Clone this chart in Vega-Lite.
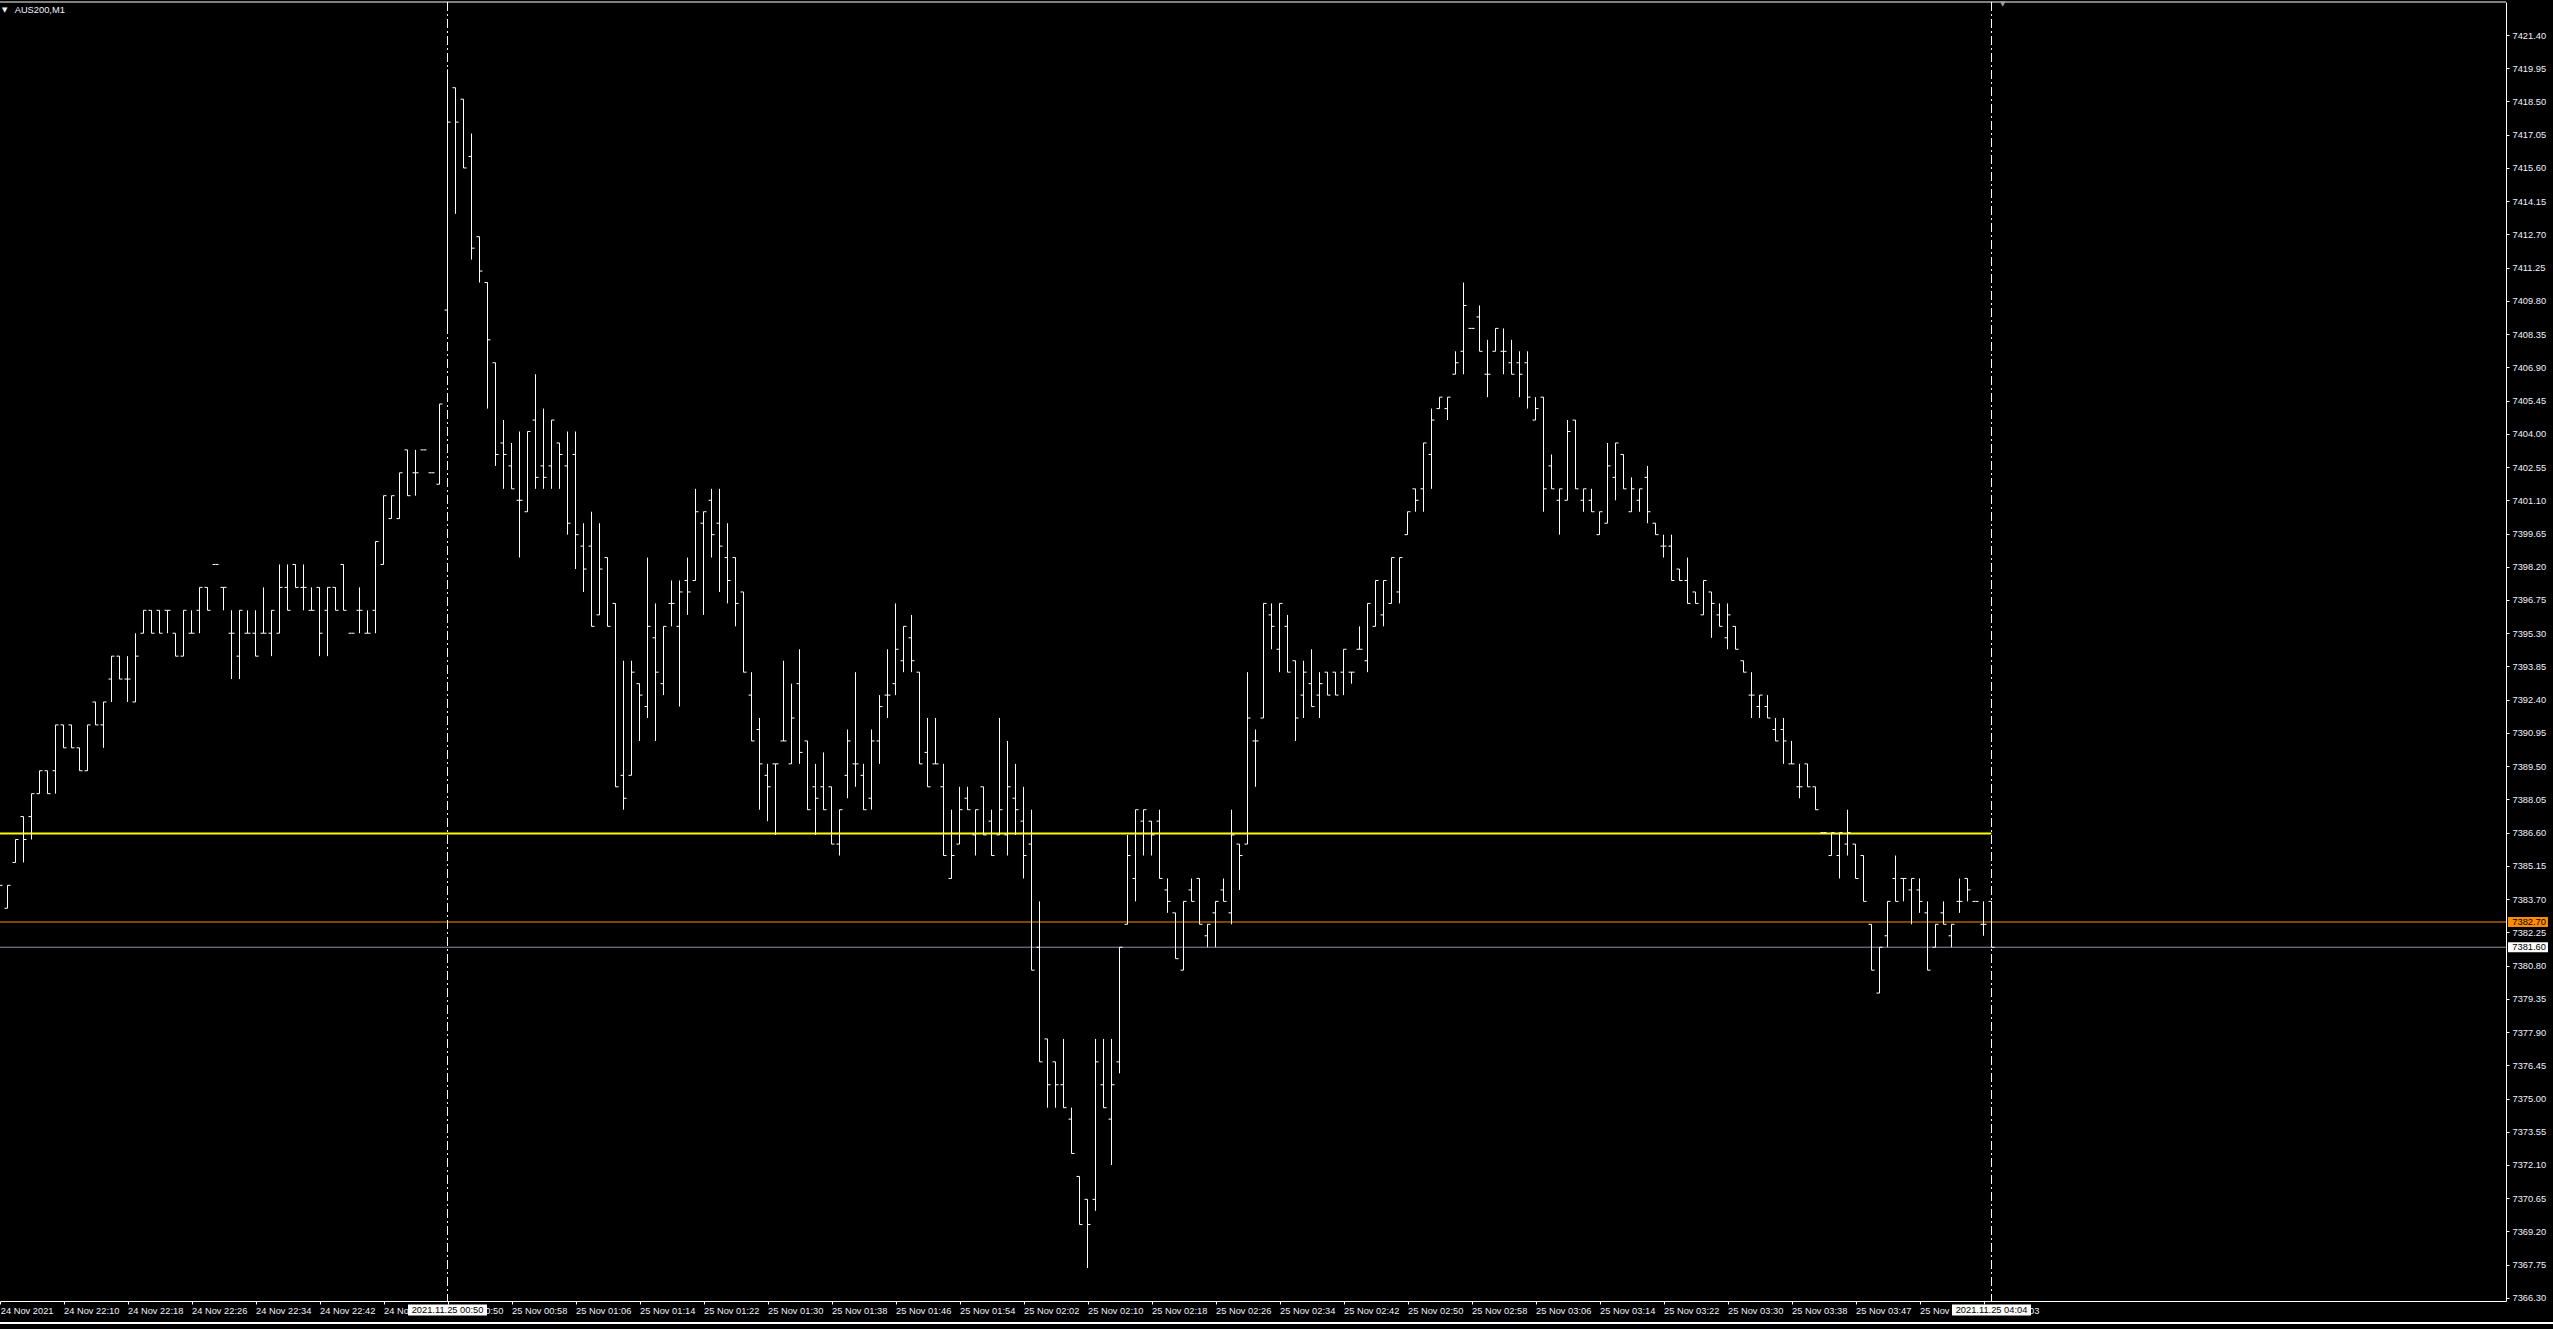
{
"$schema": "https://vega.github.io/schema/vega-lite/v6.json",
"width": 2506, "height": 1299,
"autosize": {"type": "none"},
"padding": {"left": 0, "top": 2, "right": 47, "bottom": 28},
"background": "#000000",
"config": {"view": {"stroke": null}, "font": "Liberation Sans"},
"datasets": {
"bars": [
{"i":-1,"o":7383.3,"h":7384.3,"l":7383.3,"c":7384.3},
{"i":0,"o":7383.3,"h":7384.3,"l":7383.3,"c":7384.3},
{"i":1,"o":7385.3,"h":7386.3,"l":7385.3,"c":7386.3},
{"i":2,"o":7387.3,"h":7387.3,"l":7385.3,"c":7386.3},
{"i":3,"o":7387.3,"h":7388.3,"l":7386.3,"c":7388.3},
{"i":4,"o":7388.3,"h":7389.3,"l":7388.3,"c":7389.3},
{"i":5,"o":7389.3,"h":7389.3,"l":7388.3,"c":7388.3},
{"i":6,"o":7389.3,"h":7391.3,"l":7388.3,"c":7391.3},
{"i":7,"o":7391.3,"h":7391.3,"l":7390.3,"c":7390.3},
{"i":8,"o":7391.3,"h":7391.3,"l":7390.3,"c":7390.3},
{"i":9,"o":7390.3,"h":7390.3,"l":7389.3,"c":7389.3},
{"i":10,"o":7389.3,"h":7391.3,"l":7389.3,"c":7391.3},
{"i":11,"o":7392.3,"h":7392.3,"l":7391.3,"c":7391.3},
{"i":12,"o":7391.3,"h":7392.3,"l":7390.3,"c":7392.3},
{"i":13,"o":7393.3,"h":7394.3,"l":7392.3,"c":7394.3},
{"i":14,"o":7394.3,"h":7394.3,"l":7393.3,"c":7393.3},
{"i":15,"o":7393.3,"h":7394.3,"l":7392.3,"c":7393.3},
{"i":16,"o":7392.3,"h":7395.3,"l":7392.3,"c":7394.3},
{"i":17,"o":7395.3,"h":7396.3,"l":7395.3,"c":7396.3},
{"i":18,"o":7396.3,"h":7396.3,"l":7395.3,"c":7395.3},
{"i":19,"o":7396.3,"h":7396.3,"l":7395.3,"c":7395.3},
{"i":20,"o":7396.3,"h":7396.3,"l":7395.3,"c":7396.3},
{"i":21,"o":7395.3,"h":7395.3,"l":7394.3,"c":7394.3},
{"i":22,"o":7394.3,"h":7396.3,"l":7394.3,"c":7396.3},
{"i":23,"o":7395.3,"h":7396.3,"l":7395.3,"c":7395.3},
{"i":24,"o":7396.3,"h":7397.3,"l":7395.3,"c":7397.3},
{"i":25,"o":7397.3,"h":7397.3,"l":7396.3,"c":7396.3},
{"i":26,"o":7398.3,"h":7398.3,"l":7398.3,"c":7398.3},
{"i":27,"o":7397.3,"h":7397.3,"l":7396.3,"c":7397.3},
{"i":28,"o":7395.3,"h":7396.3,"l":7393.3,"c":7395.3},
{"i":29,"o":7394.3,"h":7396.3,"l":7393.3,"c":7396.3},
{"i":30,"o":7395.3,"h":7396.3,"l":7395.3,"c":7395.3},
{"i":31,"o":7395.3,"h":7396.3,"l":7394.3,"c":7394.3},
{"i":32,"o":7395.3,"h":7397.3,"l":7395.3,"c":7395.3},
{"i":33,"o":7395.3,"h":7396.3,"l":7394.3,"c":7396.3},
{"i":34,"o":7395.3,"h":7398.3,"l":7395.3,"c":7397.3},
{"i":35,"o":7397.3,"h":7398.3,"l":7396.3,"c":7396.3},
{"i":36,"o":7398.3,"h":7398.3,"l":7397.3,"c":7397.3},
{"i":37,"o":7397.3,"h":7398.3,"l":7396.3,"c":7397.3},
{"i":38,"o":7396.3,"h":7397.3,"l":7396.3,"c":7396.3},
{"i":39,"o":7397.3,"h":7397.3,"l":7394.3,"c":7395.3},
{"i":40,"o":7396.3,"h":7397.3,"l":7394.3,"c":7397.3},
{"i":41,"o":7397.3,"h":7397.3,"l":7396.3,"c":7396.3},
{"i":42,"o":7398.3,"h":7398.3,"l":7396.3,"c":7396.3},
{"i":43,"o":7395.3,"h":7395.3,"l":7395.3,"c":7395.3},
{"i":44,"o":7396.3,"h":7397.3,"l":7395.3,"c":7396.3},
{"i":45,"o":7395.3,"h":7396.3,"l":7395.3,"c":7395.3},
{"i":46,"o":7396.3,"h":7399.3,"l":7395.3,"c":7399.3},
{"i":47,"o":7398.3,"h":7401.3,"l":7398.3,"c":7401.3},
{"i":48,"o":7400.3,"h":7401.3,"l":7400.3,"c":7401.3},
{"i":49,"o":7400.3,"h":7402.3,"l":7400.3,"c":7402.3},
{"i":50,"o":7403.3,"h":7403.3,"l":7401.3,"c":7401.3},
{"i":51,"o":7402.3,"h":7403.3,"l":7401.3,"c":7402.3},
{"i":52,"o":7403.3,"h":7403.3,"l":7403.3,"c":7403.3},
{"i":53,"o":7402.3,"h":7402.3,"l":7402.3,"c":7402.3},
{"i":54,"o":7401.8,"h":7405.3,"l":7401.8,"c":7405.3},
{"i":55,"o":7409.4,"h":7419.9,"l":7408.4,"c":7417.6},
{"i":56,"o":7419.1,"h":7419.1,"l":7413.6,"c":7417.6},
{"i":57,"o":7418.6,"h":7418.6,"l":7415.6,"c":7415.6},
{"i":58,"o":7416.1,"h":7417.1,"l":7411.6,"c":7412.1},
{"i":59,"o":7412.6,"h":7412.6,"l":7410.6,"c":7411.1},
{"i":60,"o":7410.6,"h":7410.6,"l":7405.1,"c":7408.1},
{"i":61,"o":7407.1,"h":7407.1,"l":7402.6,"c":7403.1},
{"i":62,"o":7403.6,"h":7404.6,"l":7401.6,"c":7403.1},
{"i":63,"o":7402.6,"h":7403.6,"l":7401.6,"c":7401.6},
{"i":64,"o":7401.1,"h":7404.1,"l":7398.6,"c":7401.1},
{"i":65,"o":7400.6,"h":7404.1,"l":7400.6,"c":7404.1},
{"i":66,"o":7404.6,"h":7406.6,"l":7401.6,"c":7402.1},
{"i":67,"o":7402.6,"h":7405.1,"l":7401.6,"c":7402.1},
{"i":68,"o":7402.6,"h":7404.6,"l":7401.6,"c":7404.6},
{"i":69,"o":7403.6,"h":7403.6,"l":7401.6,"c":7403.1},
{"i":70,"o":7402.6,"h":7404.1,"l":7399.6,"c":7400.1},
{"i":71,"o":7403.1,"h":7404.1,"l":7398.1,"c":7399.6},
{"i":72,"o":7399.1,"h":7400.1,"l":7397.1,"c":7398.1},
{"i":73,"o":7399.1,"h":7400.6,"l":7395.6,"c":7395.6},
{"i":74,"o":7396.1,"h":7400.1,"l":7396.1,"c":7398.1},
{"i":75,"o":7398.6,"h":7398.6,"l":7395.6,"c":7395.6},
{"i":76,"o":7396.6,"h":7396.6,"l":7388.6,"c":7388.6},
{"i":77,"o":7389.1,"h":7394.1,"l":7387.6,"c":7388.1},
{"i":78,"o":7389.1,"h":7394.1,"l":7389.1,"c":7393.6},
{"i":79,"o":7393.1,"h":7393.1,"l":7390.6,"c":7392.6},
{"i":80,"o":7392.1,"h":7398.6,"l":7391.6,"c":7395.6},
{"i":81,"o":7395.1,"h":7396.6,"l":7390.6,"c":7393.6},
{"i":82,"o":7393.1,"h":7395.6,"l":7392.6,"c":7395.6},
{"i":83,"o":7396.6,"h":7397.6,"l":7395.6,"c":7396.6},
{"i":84,"o":7395.6,"h":7397.6,"l":7392.1,"c":7397.1},
{"i":85,"o":7397.6,"h":7398.6,"l":7396.1,"c":7397.1},
{"i":86,"o":7397.6,"h":7401.6,"l":7397.6,"c":7400.6},
{"i":87,"o":7400.1,"h":7400.6,"l":7396.1,"c":7400.6},
{"i":88,"o":7401.1,"h":7401.6,"l":7398.6,"c":7399.6},
{"i":89,"o":7400.1,"h":7401.6,"l":7397.1,"c":7399.1},
{"i":90,"o":7398.6,"h":7400.1,"l":7396.6,"c":7397.6},
{"i":91,"o":7398.6,"h":7398.6,"l":7395.6,"c":7396.6},
{"i":92,"o":7397.1,"h":7397.1,"l":7393.6,"c":7393.6},
{"i":93,"o":7392.6,"h":7393.6,"l":7390.6,"c":7390.6},
{"i":94,"o":7391.1,"h":7391.6,"l":7387.6,"c":7389.6},
{"i":95,"o":7389.1,"h":7389.6,"l":7387.1,"c":7388.6},
{"i":96,"o":7389.6,"h":7389.6,"l":7386.5,"c":7389.6},
{"i":97,"o":7390.6,"h":7394.1,"l":7390.6,"c":7390.6},
{"i":98,"o":7389.6,"h":7393.1,"l":7389.6,"c":7391.6},
{"i":99,"o":7393.1,"h":7394.6,"l":7389.6,"c":7390.1},
{"i":100,"o":7390.6,"h":7390.6,"l":7387.6,"c":7387.6},
{"i":101,"o":7388.6,"h":7389.6,"l":7386.5,"c":7388.1},
{"i":102,"o":7388.6,"h":7390.1,"l":7387.6,"c":7387.6},
{"i":103,"o":7388.6,"h":7388.6,"l":7386.1,"c":7386.1},
{"i":104,"o":7386.1,"h":7387.6,"l":7385.6,"c":7387.6},
{"i":105,"o":7389.1,"h":7391.1,"l":7388.1,"c":7390.6},
{"i":106,"o":7389.6,"h":7393.6,"l":7388.6,"c":7389.6},
{"i":107,"o":7389.1,"h":7389.6,"l":7387.6,"c":7387.6},
{"i":108,"o":7388.1,"h":7391.1,"l":7387.6,"c":7390.6},
{"i":109,"o":7390.6,"h":7392.6,"l":7389.6,"c":7392.1},
{"i":110,"o":7392.6,"h":7394.6,"l":7391.6,"c":7392.6},
{"i":111,"o":7393.1,"h":7396.6,"l":7392.6,"c":7394.6},
{"i":112,"o":7394.1,"h":7395.6,"l":7393.6,"c":7395.6},
{"i":113,"o":7395.1,"h":7396.1,"l":7393.6,"c":7394.1},
{"i":114,"o":7393.6,"h":7393.6,"l":7389.6,"c":7389.6},
{"i":115,"o":7390.1,"h":7391.6,"l":7388.6,"c":7388.6},
{"i":116,"o":7389.6,"h":7391.6,"l":7389.6,"c":7389.6},
{"i":117,"o":7388.6,"h":7389.6,"l":7385.6,"c":7385.6},
{"i":118,"o":7384.6,"h":7387.6,"l":7384.6,"c":7385.6},
{"i":119,"o":7386.1,"h":7388.6,"l":7386.1,"c":7387.6},
{"i":120,"o":7388.1,"h":7388.6,"l":7387.6,"c":7387.6},
{"i":121,"o":7386.5,"h":7387.6,"l":7385.6,"c":7387.6},
{"i":122,"o":7388.6,"h":7388.6,"l":7386.5,"c":7386.5},
{"i":123,"o":7387.1,"h":7387.6,"l":7385.6,"c":7385.6},
{"i":124,"o":7386.5,"h":7391.6,"l":7386.5,"c":7387.6},
{"i":125,"o":7386.5,"h":7390.6,"l":7385.6,"c":7388.6},
{"i":126,"o":7388.1,"h":7389.6,"l":7386.5,"c":7387.6},
{"i":127,"o":7387.1,"h":7388.6,"l":7384.6,"c":7385.6},
{"i":128,"o":7386.1,"h":7387.6,"l":7380.6,"c":7380.6},
{"i":129,"o":7381.6,"h":7383.6,"l":7376.6,"c":7376.6},
{"i":130,"o":7377.6,"h":7377.6,"l":7374.6,"c":7375.6},
{"i":131,"o":7376.6,"h":7376.6,"l":7374.6,"c":7375.6},
{"i":132,"o":7375.6,"h":7377.6,"l":7374.6,"c":7374.6},
{"i":133,"o":7374.1,"h":7374.6,"l":7372.6,"c":7372.6},
{"i":134,"o":7371.6,"h":7371.6,"l":7369.5,"c":7369.5},
{"i":135,"o":7370.6,"h":7370.6,"l":7367.6,"c":7369.5},
{"i":136,"o":7370.6,"h":7377.6,"l":7370.1,"c":7376.6},
{"i":137,"o":7375.6,"h":7377.6,"l":7374.6,"c":7374.6},
{"i":138,"o":7374.1,"h":7377.6,"l":7372.1,"c":7375.6},
{"i":139,"o":7376.6,"h":7381.6,"l":7376.1,"c":7381.6},
{"i":140,"o":7382.6,"h":7386.5,"l":7382.6,"c":7385.6},
{"i":141,"o":7384.6,"h":7387.6,"l":7383.6,"c":7387.6},
{"i":142,"o":7387.1,"h":7387.6,"l":7385.6,"c":7387.6},
{"i":143,"o":7387.1,"h":7387.1,"l":7385.6,"c":7386.5},
{"i":144,"o":7387.1,"h":7387.6,"l":7384.6,"c":7384.6},
{"i":145,"o":7384.1,"h":7384.6,"l":7383.1,"c":7383.6},
{"i":146,"o":7383.1,"h":7383.1,"l":7381.1,"c":7381.1},
{"i":147,"o":7380.6,"h":7383.6,"l":7380.6,"c":7383.6},
{"i":148,"o":7384.1,"h":7384.6,"l":7383.6,"c":7383.6},
{"i":149,"o":7384.6,"h":7384.6,"l":7382.6,"c":7382.6},
{"i":150,"o":7382.1,"h":7382.6,"l":7381.6,"c":7382.6},
{"i":151,"o":7383.1,"h":7383.6,"l":7381.6,"c":7383.6},
{"i":152,"o":7384.1,"h":7384.6,"l":7383.6,"c":7383.6},
{"i":153,"o":7383.1,"h":7387.6,"l":7382.6,"c":7386.5},
{"i":154,"o":7386.1,"h":7386.1,"l":7384.1,"c":7385.6},
{"i":155,"o":7386.1,"h":7393.6,"l":7386.1,"c":7391.6},
{"i":156,"o":7390.6,"h":7391.1,"l":7388.6,"c":7390.6},
{"i":157,"o":7391.6,"h":7396.6,"l":7391.6,"c":7396.6},
{"i":158,"o":7396.1,"h":7396.6,"l":7394.6,"c":7395.6},
{"i":159,"o":7394.6,"h":7396.6,"l":7393.6,"c":7396.6},
{"i":160,"o":7395.6,"h":7396.1,"l":7393.6,"c":7393.6},
{"i":161,"o":7394.1,"h":7394.1,"l":7390.6,"c":7391.6},
{"i":162,"o":7392.6,"h":7394.1,"l":7391.6,"c":7393.6},
{"i":163,"o":7393.1,"h":7394.6,"l":7392.1,"c":7392.1},
{"i":164,"o":7392.6,"h":7393.6,"l":7391.6,"c":7393.1},
{"i":165,"o":7393.6,"h":7393.6,"l":7392.6,"c":7392.6},
{"i":166,"o":7393.6,"h":7393.6,"l":7392.6,"c":7392.6},
{"i":167,"o":7393.6,"h":7394.6,"l":7392.6,"c":7394.6},
{"i":168,"o":7393.6,"h":7393.6,"l":7393.1,"c":7393.6},
{"i":169,"o":7394.6,"h":7395.6,"l":7394.6,"c":7394.6},
{"i":170,"o":7394.1,"h":7396.6,"l":7393.6,"c":7396.6},
{"i":171,"o":7395.6,"h":7397.6,"l":7395.6,"c":7397.6},
{"i":172,"o":7396.1,"h":7397.6,"l":7395.6,"c":7397.6},
{"i":173,"o":7396.6,"h":7398.6,"l":7396.6,"c":7398.6},
{"i":174,"o":7397.1,"h":7398.6,"l":7396.6,"c":7398.6},
{"i":175,"o":7399.6,"h":7400.6,"l":7399.6,"c":7400.6},
{"i":176,"o":7401.6,"h":7401.6,"l":7400.6,"c":7401.1},
{"i":177,"o":7401.6,"h":7403.6,"l":7400.6,"c":7403.6},
{"i":178,"o":7403.1,"h":7405.1,"l":7401.6,"c":7404.6},
{"i":179,"o":7405.1,"h":7405.6,"l":7405.1,"c":7405.6},
{"i":180,"o":7405.1,"h":7405.6,"l":7404.6,"c":7405.6},
{"i":181,"o":7406.6,"h":7407.6,"l":7406.6,"c":7407.1},
{"i":182,"o":7407.6,"h":7410.6,"l":7406.6,"c":7409.6},
{"i":183,"o":7408.6,"h":7408.6,"l":7408.6,"c":7408.6},
{"i":184,"o":7409.1,"h":7409.6,"l":7407.6,"c":7407.6},
{"i":185,"o":7406.6,"h":7408.1,"l":7405.6,"c":7406.6},
{"i":186,"o":7407.6,"h":7408.6,"l":7407.6,"c":7408.6},
{"i":187,"o":7407.6,"h":7408.6,"l":7406.6,"c":7407.6},
{"i":188,"o":7407.1,"h":7408.1,"l":7406.6,"c":7406.6},
{"i":189,"o":7407.1,"h":7407.6,"l":7405.6,"c":7406.6},
{"i":190,"o":7407.1,"h":7407.6,"l":7405.1,"c":7405.6},
{"i":191,"o":7404.6,"h":7405.6,"l":7404.6,"c":7405.1},
{"i":192,"o":7405.6,"h":7405.6,"l":7400.6,"c":7401.6},
{"i":193,"o":7402.6,"h":7403.1,"l":7401.6,"c":7401.6},
{"i":194,"o":7401.1,"h":7401.6,"l":7399.6,"c":7401.6},
{"i":195,"o":7401.1,"h":7404.6,"l":7401.1,"c":7404.1},
{"i":196,"o":7404.6,"h":7404.6,"l":7401.6,"c":7401.6},
{"i":197,"o":7401.1,"h":7401.6,"l":7400.6,"c":7401.6},
{"i":198,"o":7401.1,"h":7401.6,"l":7400.6,"c":7400.6},
{"i":199,"o":7399.6,"h":7400.6,"l":7399.6,"c":7400.6},
{"i":200,"o":7400.1,"h":7403.6,"l":7400.1,"c":7402.6},
{"i":201,"o":7402.1,"h":7403.6,"l":7401.1,"c":7403.6},
{"i":202,"o":7403.1,"h":7403.1,"l":7401.6,"c":7401.6},
{"i":203,"o":7400.6,"h":7402.1,"l":7400.6,"c":7401.6},
{"i":204,"o":7401.1,"h":7401.6,"l":7400.6,"c":7401.6},
{"i":205,"o":7402.1,"h":7402.6,"l":7400.1,"c":7400.6},
{"i":206,"o":7400.1,"h":7400.1,"l":7399.6,"c":7399.6},
{"i":207,"o":7399.1,"h":7399.6,"l":7398.6,"c":7399.1},
{"i":208,"o":7399.1,"h":7399.6,"l":7397.6,"c":7397.6},
{"i":209,"o":7398.1,"h":7398.1,"l":7397.6,"c":7397.6},
{"i":210,"o":7397.6,"h":7398.6,"l":7396.6,"c":7396.6},
{"i":211,"o":7397.1,"h":7397.1,"l":7396.6,"c":7396.6},
{"i":212,"o":7396.1,"h":7397.6,"l":7396.1,"c":7397.6},
{"i":213,"o":7397.1,"h":7397.1,"l":7395.1,"c":7396.6},
{"i":214,"o":7396.1,"h":7396.6,"l":7395.6,"c":7395.6},
{"i":215,"o":7395.1,"h":7396.6,"l":7394.6,"c":7396.1},
{"i":216,"o":7395.6,"h":7395.6,"l":7394.6,"c":7394.6},
{"i":217,"o":7394.1,"h":7394.1,"l":7393.6,"c":7393.6},
{"i":218,"o":7392.6,"h":7393.6,"l":7391.6,"c":7392.6},
{"i":219,"o":7392.1,"h":7392.6,"l":7391.6,"c":7392.6},
{"i":220,"o":7392.1,"h":7392.6,"l":7391.6,"c":7391.6},
{"i":221,"o":7391.1,"h":7391.6,"l":7390.6,"c":7390.6},
{"i":222,"o":7391.1,"h":7391.6,"l":7389.6,"c":7390.6},
{"i":223,"o":7389.6,"h":7390.6,"l":7389.6,"c":7389.6},
{"i":224,"o":7388.6,"h":7389.6,"l":7388.1,"c":7388.6},
{"i":225,"o":7389.6,"h":7389.6,"l":7388.6,"c":7388.6},
{"i":226,"o":7388.6,"h":7388.6,"l":7387.6,"c":7387.6},
{"i":227,"o":7386.6,"h":7386.6,"l":7386.6,"c":7386.6},
{"i":228,"o":7385.6,"h":7386.6,"l":7385.6,"c":7386.6},
{"i":229,"o":7385.6,"h":7386.6,"l":7384.6,"c":7386.6},
{"i":230,"o":7386.1,"h":7387.6,"l":7385.6,"c":7386.6},
{"i":231,"o":7386.1,"h":7386.1,"l":7384.6,"c":7384.6},
{"i":232,"o":7385.6,"h":7385.6,"l":7383.6,"c":7383.6},
{"i":233,"o":7382.6,"h":7382.6,"l":7380.6,"c":7380.6},
{"i":234,"o":7379.6,"h":7381.6,"l":7379.6,"c":7381.6},
{"i":235,"o":7382.1,"h":7383.6,"l":7381.6,"c":7383.6},
{"i":236,"o":7384.6,"h":7385.6,"l":7383.6,"c":7383.6},
{"i":237,"o":7384.6,"h":7384.6,"l":7383.6,"c":7384.6},
{"i":238,"o":7384.1,"h":7384.6,"l":7382.6,"c":7384.6},
{"i":239,"o":7384.1,"h":7384.6,"l":7383.1,"c":7383.6},
{"i":240,"o":7383.1,"h":7383.6,"l":7380.6,"c":7380.6},
{"i":241,"o":7381.6,"h":7382.6,"l":7381.6,"c":7382.6},
{"i":242,"o":7383.1,"h":7383.6,"l":7382.6,"c":7382.6},
{"i":243,"o":7382.1,"h":7382.6,"l":7381.6,"c":7382.6},
{"i":244,"o":7383.6,"h":7384.6,"l":7383.1,"c":7383.6},
{"i":245,"o":7384.6,"h":7384.6,"l":7383.6,"c":7384.1},
{"i":246,"o":7383.6,"h":7383.6,"l":7383.6,"c":7383.6},
{"i":247,"o":7382.6,"h":7383.6,"l":7382.1,"c":7382.6},
{"i":248,"o":7383.6,"h":7383.6,"l":7381.6,"c":7381.6}
],
"level": [{"from": -2, "to": 248, "price": 7386.56}],
"ask": [{"from": -2, "to": 314, "price": 7382.70, "label": "7382.70"}],
"bid": [{"from": -2, "to": 314, "price": 7381.60, "label": "7381.60"}],
"separators": [{"i": 55, "label": "2021.11.25 00:50"}, {"i": 248, "label": "2021.11.25 04:04"}],
"symbol": [{"label": "AUS200,M1"}]
},
"layer": [
{"data": {"name": "bars"},
 "mark": {"type": "rule", "color": "#ffffff", "strokeOpacity": 0, "clip": true},
 "encoding": {
  "x": {"field": "i", "type": "quantitative", "scale": {"domain": [-0.9375, 312.3125], "nice": false, "zero": false},
   "axis": {"orient": "bottom", "title": null, "grid": false, "tickCount": 200,
    "values": [-0.9,7,15,23,31,39,47,55,63,71,79,87,95,103,111,119,127,135,143,151,159,167,175,183,191,199,207,215,223,231,239,247],
    "labelExpr": "['24 Nov 2021','24 Nov 22:10','24 Nov 22:18','24 Nov 22:26','24 Nov 22:34','24 Nov 22:42','24 Nov 22:50','25 Nov 00:50','25 Nov 00:58','25 Nov 01:06','25 Nov 01:14','25 Nov 01:22','25 Nov 01:30','25 Nov 01:38','25 Nov 01:46','25 Nov 01:54','25 Nov 02:02','25 Nov 02:10','25 Nov 02:18','25 Nov 02:26','25 Nov 02:34','25 Nov 02:42','25 Nov 02:50','25 Nov 02:58','25 Nov 03:06','25 Nov 03:14','25 Nov 03:22','25 Nov 03:30','25 Nov 03:38','25 Nov 03:47','25 Nov 03:55','25 Nov 04:03'][round((datum.value + 1) / 8)]",
    "labelAlign": "left", "labelBaseline": "top", "labelOffset": 0, "labelPadding": 2,
    "labelFont": "Liberation Sans", "labelFontSize": 9.3, "labelColor": "#f0f4ff",
    "labelFlush": false, "labelOverlap": false, "labelBound": false,
    "tickColor": "#ffffff", "tickSize": 3, "domainColor": "#ffffff", "domainWidth": 1}},
  "y": {"field": "l", "type": "quantitative", "scale": {"domain": [7366.165, 7422.84], "nice": false, "zero": false},
   "axis": {"orient": "right", "title": null, "grid": false, "tickCount": 200,
    "values": [7421.40,7419.95,7418.50,7417.05,7415.60,7414.15,7412.70,7411.25,7409.80,7408.35,7406.90,7405.45,7404.00,7402.55,7401.10,7399.65,7398.20,7396.75,7395.30,7393.85,7392.40,7390.95,7389.50,7388.05,7386.60,7385.15,7383.70,7382.25,7380.80,7379.35,7377.90,7376.45,7375.00,7373.55,7372.10,7370.65,7369.20,7367.75,7366.30],
    "format": ".2f", "labelFont": "Liberation Sans", "labelFontSize": 9.3, "labelColor": "#f0f4ff",
    "labelPadding": 3, "labelBaseline": "middle", "labelFlush": false, "labelOverlap": false, "labelBound": false,
    "tickColor": "#ffffff", "tickSize": 3, "domainColor": "#ffffff", "domainWidth": 1}},
  "y2": {"field": "h"}}},
{"data": {"name": "level"},
 "mark": {"type": "rule", "color": "#ffff00", "strokeWidth": 2, "clip": true},
 "encoding": {
  "x": {"field": "from", "type": "quantitative", "scale": {"domain": [-0.9375, 312.3125], "nice": false, "zero": false}},
  "x2": {"field": "to"},
  "y": {"field": "price", "type": "quantitative", "scale": {"domain": [7366.165, 7422.84], "nice": false, "zero": false}}}},
{"data": {"name": "ask"},
 "mark": {"type": "rule", "color": "#ff8c00", "strokeWidth": 1, "clip": true},
 "encoding": {
  "x": {"field": "from", "type": "quantitative", "scale": {"domain": [-0.9375, 312.3125], "nice": false, "zero": false}},
  "x2": {"field": "to"},
  "y": {"field": "price", "type": "quantitative", "scale": {"domain": [7366.165, 7422.84], "nice": false, "zero": false}}}},
{"data": {"name": "bid"},
 "mark": {"type": "rule", "color": "#8c929c", "strokeWidth": 1, "clip": true},
 "encoding": {
  "x": {"field": "from", "type": "quantitative", "scale": {"domain": [-0.9375, 312.3125], "nice": false, "zero": false}},
  "x2": {"field": "to"},
  "y": {"field": "price", "type": "quantitative", "scale": {"domain": [7366.165, 7422.84], "nice": false, "zero": false}}}},
{"data": {"name": "separators"},
 "mark": {"type": "rule", "color": "#ffffff", "strokeWidth": 1, "strokeDash": [9, 3, 2, 3], "clip": true},
 "encoding": {
  "x": {"field": "i", "type": "quantitative", "scale": {"domain": [-0.9375, 312.3125], "nice": false, "zero": false}}}},
{"data": {"name": "bars"},
 "mark": {"type": "rule", "color": "#ffffff", "strokeWidth": 1, "clip": true},
 "encoding": {
  "x": {"field": "i", "type": "quantitative", "scale": {"domain": [-0.9375, 312.3125], "nice": false, "zero": false}},
  "y": {"field": "l", "type": "quantitative", "scale": {"domain": [7366.165, 7422.84], "nice": false, "zero": false}},
  "y2": {"field": "h"}}},
{"data": {"name": "bars"},
 "mark": {"type": "rule", "color": "#ffffff", "strokeWidth": 1, "xOffset": -3, "x2Offset": 0, "clip": true},
 "encoding": {
  "x": {"field": "i", "type": "quantitative", "scale": {"domain": [-0.9375, 312.3125], "nice": false, "zero": false}},
  "x2": {"field": "i"},
  "y": {"field": "o", "type": "quantitative", "scale": {"domain": [7366.165, 7422.84], "nice": false, "zero": false}}}},
{"data": {"name": "bars"},
 "mark": {"type": "rule", "color": "#ffffff", "strokeWidth": 1, "xOffset": 0, "x2Offset": 3, "clip": true},
 "encoding": {
  "x": {"field": "i", "type": "quantitative", "scale": {"domain": [-0.9375, 312.3125], "nice": false, "zero": false}},
  "x2": {"field": "i"},
  "y": {"field": "c", "type": "quantitative", "scale": {"domain": [7366.165, 7422.84], "nice": false, "zero": false}}}},
{"data": {"values": [{"edge": 7422.84}]},
 "mark": {"type": "rule", "color": "#ffffff", "strokeWidth": 1, "clip": false},
 "encoding": {
  "x": {"datum": -0.9375, "type": "quantitative", "scale": {"domain": [-0.9375, 312.3125], "nice": false, "zero": false}},
  "x2": {"datum": 312.3125},
  "y": {"field": "edge", "type": "quantitative", "scale": {"domain": [7366.165, 7422.84], "nice": false, "zero": false}}}},
{"data": {"name": "ask"},
 "mark": {"type": "rule", "color": "#ff8c00", "strokeWidth": 10, "strokeCap": "butt", "xOffset": -20, "x2Offset": 20, "clip": false},
 "encoding": {
  "x": {"datum": 315.06, "type": "quantitative", "scale": {"domain": [-0.9375, 312.3125], "nice": false, "zero": false}},
  "x2": {"datum": 315.06},
  "y": {"field": "price", "type": "quantitative", "scale": {"domain": [7366.165, 7422.84], "nice": false, "zero": false}}}},
{"data": {"name": "ask"},
 "mark": {"type": "text", "color": "#000000", "align": "left", "baseline": "middle", "font": "Liberation Sans", "fontSize": 9.3, "clip": false},
 "encoding": {
  "x": {"datum": 313.1, "type": "quantitative", "scale": {"domain": [-0.9375, 312.3125], "nice": false, "zero": false}},
  "y": {"field": "price", "type": "quantitative", "scale": {"domain": [7366.165, 7422.84], "nice": false, "zero": false}},
  "text": {"field": "label"}}},
{"data": {"name": "bid"},
 "mark": {"type": "rule", "color": "#ffffff", "strokeWidth": 10, "strokeCap": "butt", "xOffset": -20, "x2Offset": 20, "clip": false},
 "encoding": {
  "x": {"datum": 315.06, "type": "quantitative", "scale": {"domain": [-0.9375, 312.3125], "nice": false, "zero": false}},
  "x2": {"datum": 315.06},
  "y": {"field": "price", "type": "quantitative", "scale": {"domain": [7366.165, 7422.84], "nice": false, "zero": false}}}},
{"data": {"name": "bid"},
 "mark": {"type": "text", "color": "#000000", "align": "left", "baseline": "middle", "font": "Liberation Sans", "fontSize": 9.3, "clip": false},
 "encoding": {
  "x": {"datum": 313.1, "type": "quantitative", "scale": {"domain": [-0.9375, 312.3125], "nice": false, "zero": false}},
  "y": {"field": "price", "type": "quantitative", "scale": {"domain": [7366.165, 7422.84], "nice": false, "zero": false}},
  "text": {"field": "label"}}},
{"data": {"name": "separators"},
 "mark": {"type": "rule", "color": "#ffffff", "strokeWidth": 11, "strokeCap": "butt", "xOffset": -39.5, "x2Offset": 39.5, "clip": false},
 "encoding": {
  "x": {"field": "i", "type": "quantitative", "scale": {"domain": [-0.9375, 312.3125], "nice": false, "zero": false}},
  "x2": {"field": "i"},
  "y": {"datum": 7365.77, "type": "quantitative", "scale": {"domain": [7366.165, 7422.84], "nice": false, "zero": false}}}},
{"data": {"name": "separators"},
 "mark": {"type": "text", "color": "#000000", "align": "center", "baseline": "middle", "font": "Liberation Sans", "fontSize": 9.3, "clip": false},
 "encoding": {
  "x": {"field": "i", "type": "quantitative", "scale": {"domain": [-0.9375, 312.3125], "nice": false, "zero": false}},
  "y": {"datum": 7365.77, "type": "quantitative", "scale": {"domain": [7366.165, 7422.84], "nice": false, "zero": false}},
  "text": {"field": "label"}}},
{"data": {"name": "symbol"},
 "mark": {"type": "text", "color": "#f0f4ff", "align": "left", "baseline": "middle", "font": "Liberation Sans", "fontSize": 9.3, "clip": false},
 "encoding": {
  "x": {"datum": 0.9, "type": "quantitative", "scale": {"domain": [-0.9375, 312.3125], "nice": false, "zero": false}},
  "y": {"datum": 7422.51, "type": "quantitative", "scale": {"domain": [7366.165, 7422.84], "nice": false, "zero": false}},
  "text": {"field": "label"}}},
{"data": {"values": [{"glyph": "▼"}]},
 "mark": {"type": "text", "color": "#f0f4ff", "align": "center", "baseline": "middle", "font": "DejaVu Sans", "fontSize": 7, "clip": false},
 "encoding": {
  "x": {"datum": -0.35, "type": "quantitative", "scale": {"domain": [-0.9375, 312.3125], "nice": false, "zero": false}},
  "y": {"datum": 7422.49, "type": "quantitative", "scale": {"domain": [7366.165, 7422.84], "nice": false, "zero": false}},
  "text": {"field": "glyph"}}},
{"data": {"values": [{"glyph": "▼"}]},
 "mark": {"type": "text", "color": "#a0a0a0", "align": "center", "baseline": "middle", "font": "DejaVu Sans", "fontSize": 7, "clip": false},
 "encoding": {
  "x": {"datum": 249.4, "type": "quantitative", "scale": {"domain": [-0.9375, 312.3125], "nice": false, "zero": false}},
  "y": {"datum": 7422.76, "type": "quantitative", "scale": {"domain": [7366.165, 7422.84], "nice": false, "zero": false}},
  "text": {"field": "glyph"}}},
{"data": {"values": [{"edge": 7365.2}]},
 "mark": {"type": "rule", "color": "#ffffff", "strokeWidth": 2, "clip": false},
 "encoding": {
  "x": {"datum": -1, "type": "quantitative", "scale": {"domain": [-0.9375, 312.3125], "nice": false, "zero": false}},
  "x2": {"datum": 319},
  "y": {"field": "edge", "type": "quantitative", "scale": {"domain": [7366.165, 7422.84], "nice": false, "zero": false}}}}
]
}
